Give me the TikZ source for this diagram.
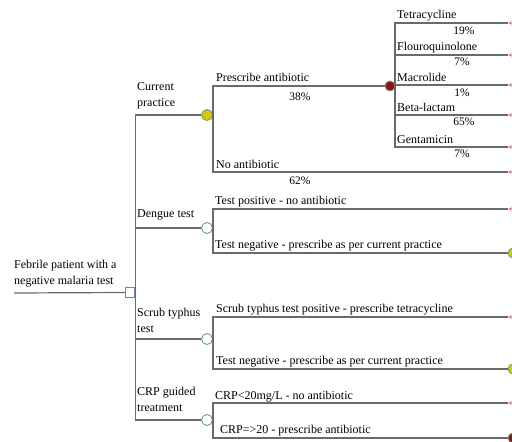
\documentclass[tikz,border=0pt]{standalone}
\usepackage{fontspec}
\setmainfont{Liberation Serif}
\usetikzlibrary{shapes.geometric,positioning}
\definecolor{linegray}{HTML}{6A6A6A}
\definecolor{nodegreen}{HTML}{5FA77C}
\definecolor{cpyellow}{HTML}{E3C20A}
\definecolor{abred}{HTML}{9E0A1E}
\definecolor{termred}{HTML}{E2607A}
\definecolor{decblue}{HTML}{6C82C4}
\tikzset{
  branch/.style={draw=linegray,line width=1.2pt},
  lbl/.style={font=\fontsize{12}{16}\selectfont,inner sep=0pt,align=left},
  pct/.style={font=\fontsize{11.5}{13}\selectfont,inner sep=0pt},
  chance/.style={circle,draw=nodegreen,fill=white,line width=0.9pt,minimum size=11pt,inner sep=0pt},
  decision/.style={rectangle,draw=decblue,fill=white,line width=0.8pt,minimum size=9.5pt,inner sep=0pt},
  term/.style={isosceles triangle,shape border rotate=180,draw=termred,fill=white,line width=0.8pt,
    minimum height=8pt,minimum width=7pt,inner sep=0pt,anchor=apex},
}
\begin{document}
\begin{tikzpicture}[x=1pt,y=-1pt]
\useasboundingbox (0,0) rectangle (512,442);
% Decision node
\coordinate (start) at (14,293);
\node[decision] (root) at (130,292.5) {};
\node[lbl,anchor=west] (febrile) at (14,274) {Febrile patient with a\\negative malaria test};
% Strategies
\node[chance,fill=cpyellow] (CP) at (207,115) {};
\node[chance] (DT) at (207,228) {};
\node[chance] (ST) at (207,339) {};
\node[chance] (CRP) at (207,420) {};
\node[lbl,anchor=west] (CPl) at (137,96) {Current\\practice};
\node[lbl,anchor=west] (DTl) at (137,215) {Dengue test};
\node[lbl,anchor=west] (STl) at (137,320) {Scrub typhus\\test};
\node[lbl,anchor=west] (CRPl) at (137,399) {CRP guided\\treatment};
\coordinate (CPs) at (213,115);
\coordinate (DTs) at (213,228);
\coordinate (STs) at (213,339);
\coordinate (CRPs) at (213,420);
% Antibiotic choice
\node[chance,fill=abred,minimum size=10pt] (RC) at (390,86) {};
\coordinate (RCs) at (395,86);
% Terminal nodes
\node[term] (T1) at (508,23) {};
\node[term] (T2) at (508,55) {};
\node[term] (T3) at (508,85) {};
\node[term] (T4) at (508,115) {};
\node[term] (T5) at (508,147) {};
\node[term] (T6) at (508,172) {};
\node[term] (T7) at (508,209) {};
\node[chance,fill=cpyellow,minimum size=10pt] (Y1) at (513,253) {};
\node[term] (T8) at (508,317) {};
\node[chance,fill=cpyellow,minimum size=10pt] (Y2) at (513,369) {};
\node[term] (T9) at (508,403) {};
\node[chance,fill=abred,minimum size=10pt] (R2) at (513,438) {};

% Connectors
\draw[branch] (start) -- (root.west);
\foreach \n in {CP,DT,ST,CRP} \draw[branch] (root.east) |- (\n.west);
\draw[branch] (CP.east) -- (CPs) |- (RC.west);
\draw[branch] (CPs) |- (T6.apex);
\draw[branch] (RC.east) -- (RCs);
\foreach \t in {T1,T2,T3,T4,T5} \draw[branch] (RCs) |- (\t.apex);
\draw[branch] (DT.east) -- (DTs) |- (T7.apex);
\draw[branch] (DTs) |- (Y1.west);
\draw[branch] (ST.east) -- (STs) |- (T8.apex);
\draw[branch] (STs) |- (Y2.west);
\draw[branch] (CRP.east) -- (CRPs) |- (T9.apex);
\draw[branch] (CRPs) |- (R2.west);

% Branch labels
\node[lbl,anchor=base west] (PA) at (216,81) {Prescribe antibiotic};
\node[pct] (PAp) at (300,97) {38\%};
\node[lbl,anchor=base west] (NA) at (216,168) {No antibiotic};
\node[pct] (NAp) at (300,181) {62\%};
\node[lbl,anchor=base west] (d1) at (397,18) {Tetracycline};
\node[pct] (d1p) at (464,31) {19\%};
\node[lbl,anchor=base west] (d2) at (397,50) {Flouroquinolone};
\node[pct] (d2p) at (462,62) {7\%};
\node[lbl,anchor=base west] (d3) at (397,81) {Macrolide};
\node[pct] (d3p) at (462,93) {1\%};
\node[lbl,anchor=base west] (d4) at (397,111) {Beta-lactam};
\node[pct] (d4p) at (464,122) {65\%};
\node[lbl,anchor=base west] (d5) at (397,143) {Gentamicin};
\node[pct] (d5p) at (462,154) {7\%};
\node[lbl,anchor=base west] (DTp) at (215,204) {Test positive - no antibiotic};
\node[lbl,anchor=base west] (DTn) at (215,248) {Test negative - prescribe as per current practice};
\node[lbl,anchor=base west] (STp) at (216,312) {Scrub typhus test positive - prescribe tetracycline};
\node[lbl,anchor=base west] (STn) at (216,364) {Test negative - prescribe as per current practice};
\node[lbl,anchor=base west] (CRPp) at (215,399) {CRP<20mg/L - no antibiotic};
\node[lbl,anchor=base west] (CRPn) at (220,433) {CRP=>20 - prescribe antibiotic};
\end{tikzpicture}
\end{document}
